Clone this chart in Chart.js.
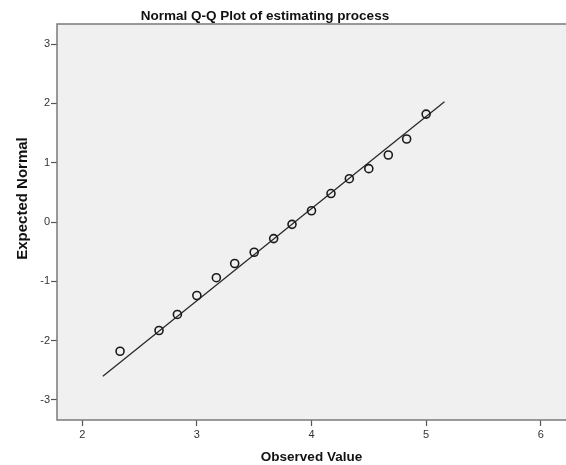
<!DOCTYPE html>
<html>
<head>
<meta charset="utf-8">
<script src="https://cdn.jsdelivr.net/npm/chart.js@4/dist/chart.umd.min.js"></script>
<style>
html,body{margin:0;padding:0;background:#fff;}
canvas{display:block;}
</style>
</head>
<body>
<canvas id="c" width="566" height="465"></canvas>
<script>
// Data
const observed = [2.33, 2.67, 2.83, 3.00, 3.17, 3.33, 3.50, 3.67, 3.83, 4.00, 4.17, 4.33, 4.50, 4.67, 4.83, 5.00];
const expectedNormal = [-2.18, -1.83, -1.56, -1.24, -0.94, -0.70, -0.51, -0.28, -0.04, 0.19, 0.48, 0.73, 0.90, 1.13, 1.40, 1.82];
const lineX = [2.18, 5.16];
const lineY = [-2.60, 2.03];
const xTicks = [2, 3, 4, 5, 6];
const yTicks = [-3, -2, -1, 0, 1, 2, 3];
const chartTitle = 'Normal Q-Q Plot of estimating process';
const xTitle = 'Observed Value';
const yTitle = 'Expected Normal';

const FONT = 'Arial, "Liberation Sans", sans-serif';

const points = observed.map((x, i) => ({x: x, y: expectedNormal[i]}));
const linePts = lineX.map((x, i) => ({x: x, y: lineY[i]}));

const framePlugin = {
  id: 'frame',
  beforeDraw(chart) {
    const {ctx, chartArea: a} = chart;
    ctx.save();
    ctx.fillStyle = '#f0f0f0';
    ctx.fillRect(a.left, a.top, a.right - a.left, a.bottom - a.top);
    ctx.restore();
  },
  afterDraw(chart) {
    const {ctx, chartArea: a} = chart;
    ctx.save();
    ctx.strokeStyle = '#7a7a7a';
    ctx.lineWidth = 1.5;
    ctx.strokeRect(a.left, a.top, a.right - a.left + 2, a.bottom - a.top);
    // titles
    ctx.fillStyle = '#111';
    ctx.textAlign = 'center';
    ctx.textBaseline = 'alphabetic';
    ctx.font = 'bold 13.5px ' + FONT;
    ctx.fillText(chartTitle, 265, 20);
    ctx.fillText(xTitle, (a.left + a.right) / 2, 461);
    ctx.save();
    ctx.translate(27, 198.5);
    ctx.rotate(-Math.PI / 2);
    ctx.font = 'bold 15px ' + FONT;
    ctx.fillText(yTitle, 0, 0);
    ctx.restore();
    ctx.restore();
  }
};

new Chart(document.getElementById('c'), {
  type: 'scatter',
  data: {
    datasets: [
      {
        data: points,
        showLine: false,
        pointStyle: 'circle',
        pointRadius: 4,
        pointBorderWidth: 1.6,
        borderColor: '#1a1a1a',
        backgroundColor: 'rgba(0,0,0,0)',
        order: 1
      },
      {
        data: linePts,
        showLine: true,
        pointRadius: 0,
        borderColor: '#2a2a2a',
        borderWidth: 1.3,
        fill: false,
        order: 2
      }
    ]
  },
  plugins: [framePlugin],
  options: {
    responsive: false,
    devicePixelRatio: 1,
    animation: false,
    layout: {autoPadding: false, padding: {left: 0, right: 0, top: 24, bottom: 0}},
    plugins: {legend: {display: false}, tooltip: {enabled: false}, title: {display: false}},
    scales: {
      x: {
        type: 'linear',
        min: 1.78,
        max: 6.22,
        afterBuildTicks(s) { s.ticks = xTicks.map(v => ({value: v})); },
        afterFit(s) { s.height = 45; s.paddingRight = 0; s.paddingLeft = 0; },
        grid: {display: true, drawOnChartArea: false, drawTicks: true, tickLength: 6, color: '#555', tickWidth: 1.2},
        border: {display: false},
        ticks: {color: '#333', font: {family: FONT, size: 11}, padding: 2, maxRotation: 0}
      },
      y: {
        type: 'linear',
        min: -3.34,
        max: 3.34,
        afterBuildTicks(s) { s.ticks = yTicks.map(v => ({value: v})); },
        afterFit(s) { s.width = 57; s.paddingTop = 0; s.paddingBottom = 0; },
        grid: {display: true, drawOnChartArea: false, drawTicks: true, tickLength: 6, color: '#555', tickWidth: 1.2},
        border: {display: false},
        ticks: {color: '#333', font: {family: FONT, size: 11}, padding: 1}
      }
    }
  }
});
</script>
</body>
</html>
